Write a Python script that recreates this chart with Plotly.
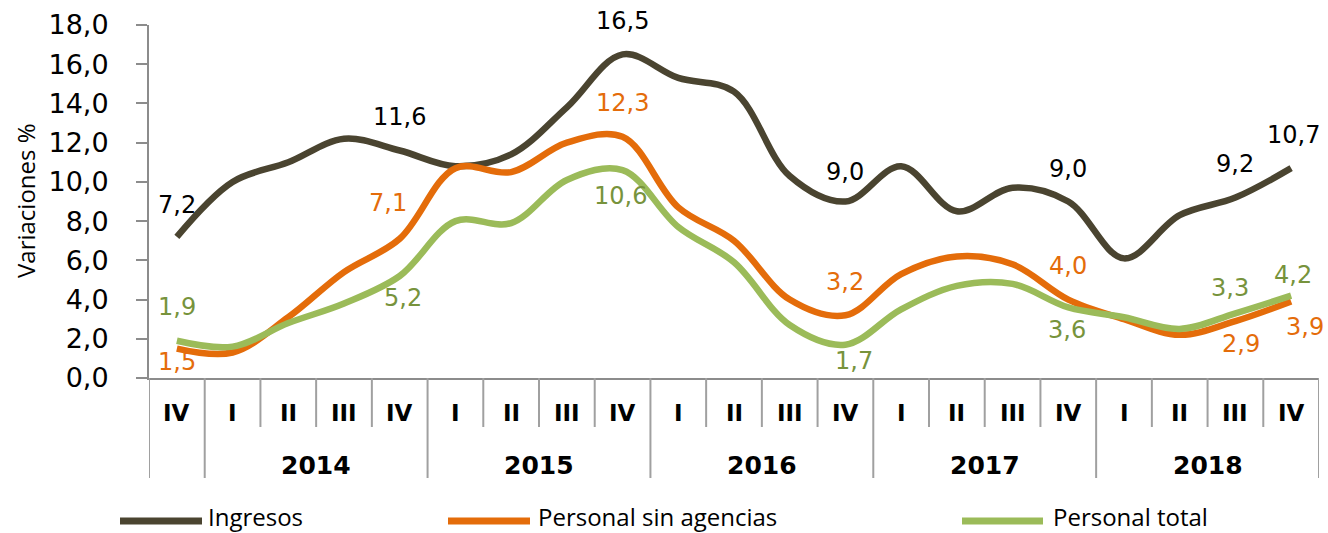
import plotly.graph_objects as go

# Quarterly series (variación interanual, %)
quarters = ["IV", "I", "II", "III", "IV", "I", "II", "III", "IV", "I", "II",
            "III", "IV", "I", "II", "III", "IV", "I", "II", "III", "IV"]
years = ["2013", "2014", "2014", "2014", "2014", "2015", "2015", "2015", "2015",
         "2016", "2016", "2016", "2016", "2017", "2017", "2017", "2017",
         "2018", "2018", "2018", "2018"]

ingresos = [7.2, 10.0, 11.0, 12.2, 11.6, 10.8, 11.4, 13.8, 16.5, 15.3, 14.6,
            10.3, 9.0, 10.8, 8.5, 9.7, 9.0, 6.1, 8.3, 9.2, 10.7]
personal_sin_agencias = [1.5, 1.3, 3.1, 5.4, 7.1, 10.7, 10.5, 12.0, 12.3, 8.7, 7.0,
                         4.0, 3.2, 5.3, 6.2, 5.8, 4.0, 3.0, 2.2, 2.9, 3.9]
personal_total = [1.9, 1.6, 2.8, 3.8, 5.2, 8.0, 7.9, 10.1, 10.6, 7.7, 5.9,
                  2.7, 1.7, 3.5, 4.7, 4.8, 3.6, 3.1, 2.5, 3.3, 4.2]

# Labelled points: index -> (dx, dy) pixel offset of the value label
labels_ingresos = {0: (0, 32), 4: (0, 34), 8: (0, 33), 12: (0, 30), 16: (0, 33),
                   19: (0, 34), 20: (2, 33)}
labels_sin_agencias = {0: (0, -13), 4: (-12, 36), 8: (0, 34), 12: (0, 33),
                       16: (0, 34), 19: (6, -23), 20: (14, -25)}
labels_total = {0: (0, 34), 4: (3, -22), 8: (-2, -26), 12: (9, -16),
                16: (-1, -23), 19: (-5, 25), 20: (2, 21)}

W, H = 1328, 533
ML, MR, MT, MB = 149, 9, 25, 155
PW, PH = W - ML - MR, H - MT - MB


def px_x(px):
    return (px - ML) / PW


def px_y(py):
    return (H - MB - py) / PH


series = [
    ("Ingresos", ingresos, "#4A4430", "#000000", labels_ingresos),
    ("Personal sin agencias", personal_sin_agencias, "#E46C0A", "#E46C0A", labels_sin_agencias),
    ("Personal total", personal_total, "#9BBB59", "#77933C", labels_total),
]

LABEL_FONT = "DejaVu Sans, Verdana, sans-serif"
TEXT_FONT = "Open Sans, sans-serif"

xs = list(range(len(quarters)))
fig = go.Figure()
annotations = []
shapes = []

for name, vals, color, lab_color, lab in series:
    fig.add_trace(go.Scatter(
        x=xs, y=vals, name=name, mode="lines",
        line=dict(color=color, width=6.5, shape="spline", smoothing=1.0),
        showlegend=False, hoverinfo="x+y+name",
    ))
    for i, (dx, dy) in lab.items():
        annotations.append(dict(
            x=xs[i], y=vals[i], xref="x", yref="y",
            xanchor="center", yanchor="middle",
            text=f"{vals[i]:.1f}".replace(".", ","),
            showarrow=False, xshift=dx, yshift=dy,
            font=dict(family=LABEL_FONT, size=24, color=lab_color),
        ))

# Category axis: quarter separators, year separators and labels
sep_color = "#A0A0A0"
for i in range(len(quarters) + 1):
    b = i - 0.5
    new_year = i == 0 or i == len(quarters) or years[i] != years[i - 1]
    shapes.append(dict(
        type="line", xref="x", yref="paper", x0=b, x1=b,
        y0=0, y1=px_y(478 if new_year else 427),
        line=dict(color=sep_color, width=2),
    ))

for i, q in enumerate(quarters):
    annotations.append(dict(
        x=xs[i], y=px_y(413), xref="x", yref="paper", text=f"<b>{q}</b>",
        xanchor="center", yanchor="middle", showarrow=False,
        font=dict(family=LABEL_FONT, size=23, color="#000000"),
    ))

year_groups = {}
for i, y in enumerate(years):
    year_groups.setdefault(y, []).append(i)
for y, idx in year_groups.items():
    if len(idx) < 4:
        continue
    annotations.append(dict(
        x=sum(idx) / len(idx), y=px_y(465), xref="x", yref="paper", text=f"<b>{y}</b>",
        xanchor="center", yanchor="middle", showarrow=False,
        font=dict(family=LABEL_FONT, size=25, color="#000000"),
    ))

# Y axis title
annotations.append(dict(
    x=px_x(25), y=px_y(201), xref="paper", yref="paper", text="Variaciones %",
    xanchor="center", yanchor="middle", textangle=-90, showarrow=False,
    font=dict(family=TEXT_FONT, size=24, color="#000000"),
))

# Legend drawn below the axis
legend_items = [(120, 202, 207), (448, 530, 537), (962, 1043, 1052)]
for (x0, x1, tx), (name, _, color, _, _) in zip(legend_items, series):
    shapes.append(dict(
        type="line", xref="paper", yref="paper",
        x0=px_x(x0), x1=px_x(x1), y0=px_y(521), y1=px_y(521),
        line=dict(color=color, width=7),
    ))
    annotations.append(dict(
        x=px_x(tx), y=px_y(516), xref="paper", yref="paper", text=name,
        xanchor="left", yanchor="middle", showarrow=False, borderpad=0,
        font=dict(family=TEXT_FONT, size=24, color="#000000"),
    ))

fig.update_layout(
    width=W, height=H,
    margin=dict(l=ML, r=MR, t=MT, b=MB),
    paper_bgcolor="white", plot_bgcolor="white",
    separators=",.",
    annotations=annotations, shapes=shapes,
    xaxis=dict(range=[-0.5, len(quarters) - 0.5], showticklabels=False, ticks="",
               showgrid=False, zeroline=False, showline=True,
               linecolor="#8C8C8C", linewidth=2),
    yaxis=dict(range=[0, 18], dtick=2, tickformat=".1f", showgrid=False,
               zeroline=False, showline=True, linecolor="#8C8C8C", linewidth=2,
               ticks="outside", ticklen=11, tickwidth=2, tickcolor="#8C8C8C",
               ticklabelstandoff=22,
               tickfont=dict(family=LABEL_FONT, size=27, color="#000000")),
)

fig.write_html("out.html")
